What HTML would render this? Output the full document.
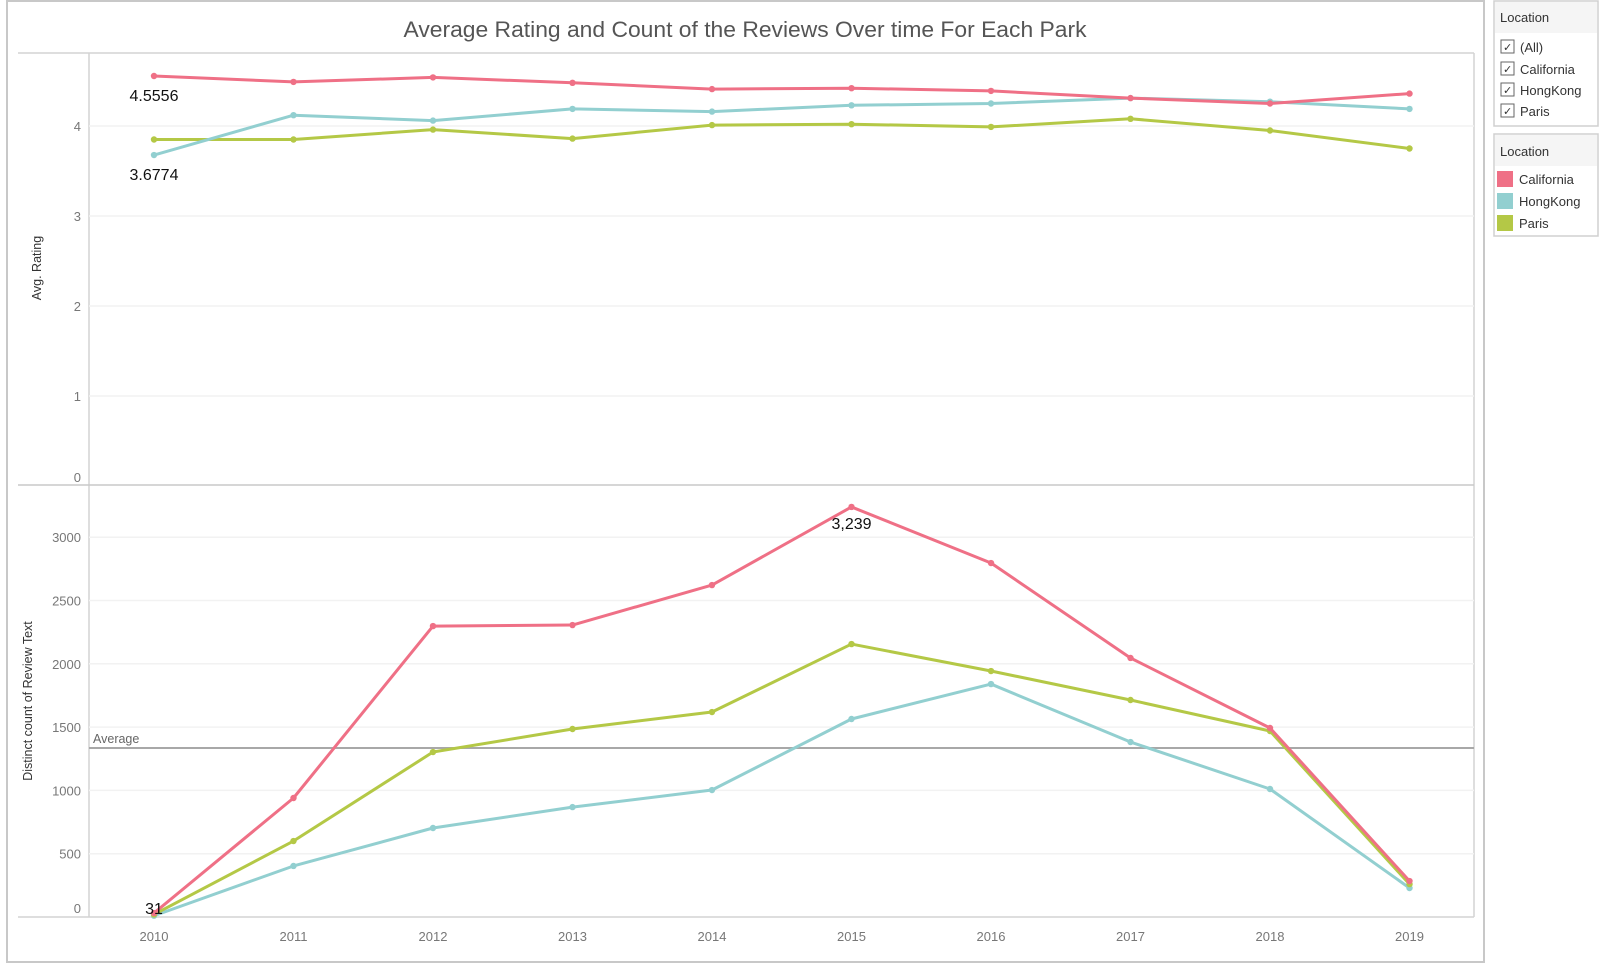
<!DOCTYPE html>
<html><head><meta charset="utf-8"><style>
html,body{margin:0;padding:0;background:#fff;}
svg{display:block;font-family:"Liberation Sans",sans-serif;}
</style></head><body>
<svg id="chart" width="1600" height="969" viewBox="0 0 1600 969">
  <rect x="7" y="1" width="1477" height="961" fill="#fff" stroke="#c8c8c8" stroke-width="2"/>
  <text x="745" y="37" text-anchor="middle" font-size="22" fill="#555" textLength="683" lengthAdjust="spacingAndGlyphs">Average Rating and Count of the Reviews Over time For Each Park</text>
  <line x1="18" y1="53" x2="1474" y2="53" stroke="#d4d4d4" stroke-width="1.5"/>
  <line x1="89" y1="53" x2="89" y2="917" stroke="#d4d4d4" stroke-width="1.5"/>
  <line x1="1474" y1="53" x2="1474" y2="917" stroke="#d4d4d4" stroke-width="1.5"/>
  <line x1="18" y1="485" x2="1474" y2="485" stroke="#c8c8c8" stroke-width="1.5"/>
  <line x1="18" y1="917" x2="1474" y2="917" stroke="#d4d4d4" stroke-width="1.5"/>
  <g id="grid"></g>
  <g id="ticks" font-size="13" fill="#777"></g>
  <text transform="translate(41,268) rotate(-90)" text-anchor="middle" font-size="12.5" fill="#333">Avg. Rating</text>
  <text transform="translate(32,701) rotate(-90)" text-anchor="middle" font-size="12.5" fill="#333">Distinct count of Review Text</text>
  <line x1="89" y1="748" x2="1474" y2="748" stroke="#a8a8a8" stroke-width="2" id="avgLine"/>
  <text x="93" y="744" font-size="12.5" fill="#666" id="avgLabel">Average</text>
  <g id="series"></g>
  <g id="labels" font-size="16" fill="#111"></g>

  <g>
    <rect x="1494" y="1" width="104" height="125" fill="#fff" stroke="#d0d0d0" stroke-width="1.5"/>
    <rect x="1495" y="2" width="102" height="31" fill="#f5f5f5"/>
    <text x="1500" y="22" font-size="13" fill="#333">Location</text>
    <g font-size="13" fill="#333">
      <g><rect x="1501" y="40" width="13" height="13" fill="#fff" stroke="#666"/><text x="1503" y="51" font-size="11">✓</text><text x="1520" y="52">(All)</text></g>
      <g><rect x="1501" y="62" width="13" height="13" fill="#fff" stroke="#666"/><text x="1503" y="73" font-size="11">✓</text><text x="1520" y="74">California</text></g>
      <g><rect x="1501" y="83" width="13" height="13" fill="#fff" stroke="#666"/><text x="1503" y="94" font-size="11">✓</text><text x="1520" y="95">HongKong</text></g>
      <g><rect x="1501" y="104" width="13" height="13" fill="#fff" stroke="#666"/><text x="1503" y="115" font-size="11">✓</text><text x="1520" y="116">Paris</text></g>
    </g>
  </g>
  <g>
    <rect x="1494" y="134" width="104" height="102" fill="#fff" stroke="#d0d0d0" stroke-width="1.5"/>
    <rect x="1495" y="135" width="102" height="31" fill="#f5f5f5"/>
    <text x="1500" y="156" font-size="13" fill="#333">Location</text>
    <g font-size="13" fill="#333">
      <g><rect x="1497" y="171" width="16" height="16" fill="#ef7086"/><text x="1519" y="184">California</text></g>
      <g><rect x="1497" y="193" width="16" height="16" fill="#92cfd0"/><text x="1519" y="206">HongKong</text></g>
      <g><rect x="1497" y="215" width="16" height="16" fill="#b4c846"/><text x="1519" y="228">Paris</text></g>
    </g>
  </g>
</svg>
<script>
const years = [2010,2011,2012,2013,2014,2015,2016,2017,2018,2019];
const ratingCalifornia = [4.5556,4.49,4.54,4.48,4.41,4.42,4.39,4.31,4.25,4.36];
const ratingHongKong = [3.6774,4.12,4.06,4.19,4.16,4.23,4.25,4.31,4.27,4.19];
const ratingParis = [3.85,3.85,3.96,3.86,4.01,4.02,3.99,4.08,3.95,3.75];
const countCalifornia = [31,940,2298,2306,2622,3239,2796,2046,1493,284];
const countHongKong = [10,403,703,868,1003,1564,1840,1382,1011,229];
const countParis = [20,600,1303,1485,1619,2156,1943,1714,1469,260];
const ratingTicks = [0,1,2,3,4];
const countTicks = [0,500,1000,1500,2000,2500,3000];
const averageCount = 1335;

const NS = "http://www.w3.org/2000/svg";
function x(i){ return 154 + i*139.5; }
function yR(v){ return 486 - v*90; }
function yC(v){ return 917 - v*0.1266; }
function mk(tag, attrs, parent){
  const e = document.createElementNS(NS, tag);
  for (const k in attrs) e.setAttribute(k, attrs[k]);
  parent.appendChild(e); return e;
}
const grid = document.getElementById('grid');
const ticks = document.getElementById('ticks');
ratingTicks.forEach(t => {
  if (t > 0) {
    const g = mk('line', {x1:89, x2:1474, y1:yR(t), y2:yR(t), stroke:'#f2f2f2', 'stroke-width':1.5}, grid);
    
    
  }
  const tx = mk('text', {x:81, y:(t===0? yR(t)-4 : yR(t)+5), 'text-anchor':'end'}, ticks);
  tx.textContent = t;
  
  
});
countTicks.forEach(t => {
  if (t > 0) {
    const g = mk('line', {x1:89, x2:1474, y1:yC(t), y2:yC(t), stroke:'#f2f2f2', 'stroke-width':1.5}, grid);
    
    
  }
  const tx = mk('text', {x:81, y:(t===0? yC(t)-4 : yC(t)+5), 'text-anchor':'end'}, ticks);
  tx.textContent = t;
  
  
});
years.forEach((yr, i) => {
  const tx = mk('text', {x:x(i), y:941, 'text-anchor':'middle'}, ticks);
  tx.textContent = yr;
  
  
});
document.getElementById('avgLine').setAttribute('y1', yC(averageCount));
document.getElementById('avgLine').setAttribute('y2', yC(averageCount));
document.getElementById('avgLabel').setAttribute('y', yC(averageCount) - 5);

const series = document.getElementById('series');
function drawLine(vals, yf, color, name){
  const pts = vals.map((v,i) => x(i)+','+yf(v)).join(' ');
  const pl = mk('polyline', {points:pts, fill:'none', stroke:color, 'stroke-width':3, 'stroke-linejoin':'round'}, series);
  
  
  vals.forEach((v,i) => {
    const c = mk('circle', {cx:x(i), cy:yf(v), r:3.2, fill:color}, series);
    
    
  });
}
drawLine(ratingParis, yR, '#b4c846', 'rating-paris');
drawLine(ratingHongKong, yR, '#92cfd0', 'rating-hongkong');
drawLine(ratingCalifornia, yR, '#ef7086', 'rating-california');
drawLine(countHongKong, yC, '#92cfd0', 'count-hongkong');
drawLine(countParis, yC, '#b4c846', 'count-paris');
drawLine(countCalifornia, yC, '#ef7086', 'count-california');

const labels = document.getElementById('labels');
function lab(txt, px, py, name){
  const t = mk('text', {x:px, y:py, 'text-anchor':'middle'}, labels);
  t.textContent = txt;
  
  
}
lab(ratingCalifornia[0].toFixed(4), x(0), yR(ratingCalifornia[0]) + 25, 'label-california-2010-rating');
lab(ratingHongKong[0].toFixed(4), x(0), yR(ratingHongKong[0]) + 25, 'label-hongkong-2010-rating');
lab(countCalifornia[5].toLocaleString('en-US'), x(5), yC(countCalifornia[5]) + 22, 'label-california-2015-count');
lab(String(countCalifornia[0]), x(0), yC(countCalifornia[0]) + 1, 'label-california-2010-count');
</script>
</body></html>
